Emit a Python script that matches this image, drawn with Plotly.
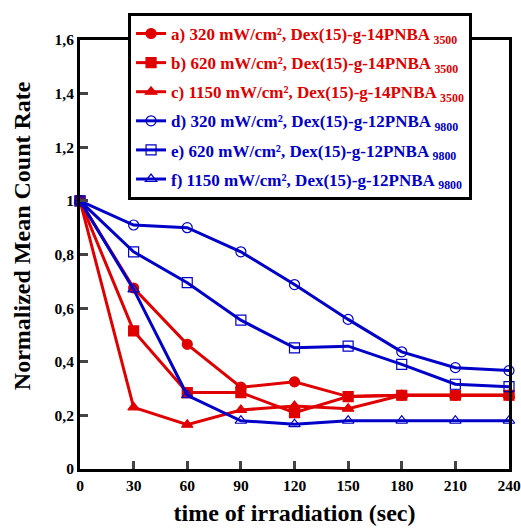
import plotly.graph_objects as go

t = [0, 30, 60, 90, 120, 150, 180, 210, 240]

a_320 = [1.0, 0.675, 0.465, 0.305, 0.325, 0.27, 0.275, 0.275, 0.275]
b_620 = [1.0, 0.515, 0.285, 0.285, 0.21, 0.27, 0.275, 0.275, 0.275]
c_1150 = [1.0, 0.23, 0.165, 0.22, 0.235, 0.225, 0.275, 0.275, 0.275]
d_320 = [1.0, 0.91, 0.90, 0.81, 0.688, 0.558, 0.437, 0.378, 0.367]
e_620 = [1.0, 0.81, 0.695, 0.555, 0.452, 0.458, 0.39, 0.316, 0.307]
f_1150 = [1.0, 0.67, 0.275, 0.18, 0.167, 0.18, 0.18, 0.18, 0.18]

RED = "#e00000"
BLUE = "#0000c8"

series = [
    ("a) 320 mW/cm², Dex(15)-g-14PNBA <sub>3500</sub>", a_320, RED, "circle"),
    ("b) 620 mW/cm², Dex(15)-g-14PNBA <sub>3500</sub>", b_620, RED, "square"),
    ("c) 1150 mW/cm², Dex(15)-g-14PNBA <sub>3500</sub>", c_1150, RED, "triangle-up"),
    ("d) 320 mW/cm², Dex(15)-g-12PNBA <sub>9800</sub>", d_320, BLUE, "circle-open"),
    ("e) 620 mW/cm², Dex(15)-g-12PNBA <sub>9800</sub>", e_620, BLUE, "square-open"),
    ("f) 1150 mW/cm², Dex(15)-g-12PNBA <sub>9800</sub>", f_1150, BLUE, "triangle-up-open"),
]

fig = go.Figure()
for i, (name, ys, col, sym) in enumerate(series):
    fig.add_trace(go.Scatter(
        x=t, y=ys, mode="lines+markers",
        name=f"<span style='color:{col}'>{name}</span>",
        legendgroup=f"g{i}",
        line=dict(color=col, width=3),
        marker=dict(symbol=sym, size=10, color=col, line=dict(color=col, width=1.2)),
        cliponaxis=False,
    ))

fig.update_layout(
    width=521, height=528,
    margin=dict(l=80, r=12, t=40, b=59, autoexpand=False),
    paper_bgcolor="white", plot_bgcolor="white",
    separators=",.",
    font=dict(family="Liberation Serif", size=15.5, color="black", weight="bold"),
    showlegend=True,
    legend=dict(
        x=0.112, y=1.063, xanchor="left", yanchor="top",
        bgcolor="white", bordercolor="black", borderwidth=3,
        font=dict(size=17, family="Liberation Serif", weight="bold"),
        tracegroupgap=4,
    ),
    xaxis=dict(
        range=[0, 240], tickvals=t, ticks="inside", ticklen=8, tickwidth=3,
        showline=True, linewidth=3, linecolor="black", mirror=True,
        showgrid=False, zeroline=False, automargin=False,
        ticklabeloverflow="allow",
        title=dict(text="time of irradiation (sec)", font=dict(size=24), standoff=12),
    ),
    yaxis=dict(
        range=[0, 1.6], dtick=0.2, ticks="inside", ticklen=8, tickwidth=3,
        showline=True, linewidth=3, linecolor="black", mirror=True,
        showgrid=False, zeroline=False, automargin=False,
    ),
    annotations=[dict(
        text="Normalized Mean Count Rate", textangle=-90,
        xref="paper", yref="paper", x=-0.135, y=0.543,
        xanchor="center", yanchor="middle", showarrow=False,
        font=dict(size=24),
    )],
)

# drop the default 8px body margin so the figure fills the window exactly
fig.write_html(
    "out.html",
    config={"displayModeBar": False},
    post_script="document.body.style.margin='0';document.documentElement.style.overflow='hidden';",
)
